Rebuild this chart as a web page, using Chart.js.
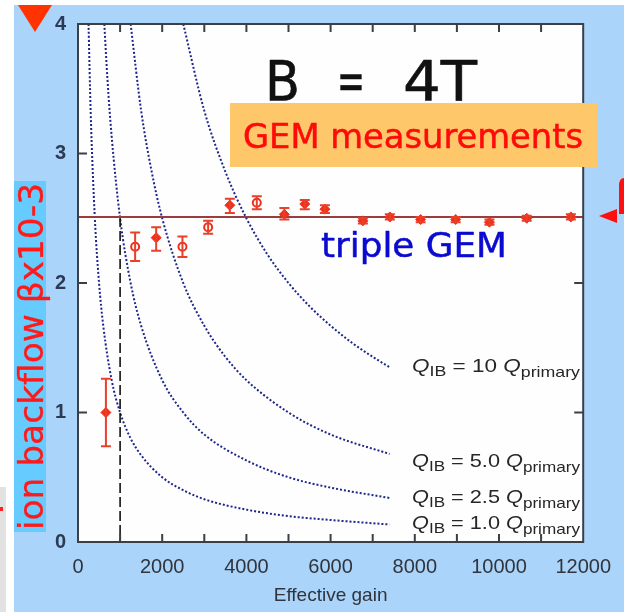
<!DOCTYPE html>
<html>
<head>
<meta charset="utf-8">
<script src="https://cdn.jsdelivr.net/npm/chart.js@4.4.0/dist/chart.umd.min.js"></script>
<style>
  html, body { margin: 0; padding: 0; background: #fff; }
  canvas { display: block; }
</style>
</head>
<body>
<canvas id="myChart" width="624" height="612"></canvas>
<script>
// measured ion backflow (x10^-3) vs effective gain, filled markers
const gainFilled = [663, 1857, 3607, 4902, 5387, 5865, 6767, 7407, 8139, 8971, 9773, 10659, 11707];
const betaFilled = [1.00, 2.35, 2.60, 2.53, 2.61, 2.57, 2.48, 2.51, 2.49, 2.49, 2.47, 2.50, 2.51];
const lowFilled = [0.74, 2.25, 2.54, 2.49, 2.57, 2.54, 2.46, 2.49, 2.47, 2.47, 2.45, 2.48, 2.49];
const highFilled = [1.26, 2.43, 2.65, 2.58, 2.64, 2.60, 2.50, 2.53, 2.51, 2.51, 2.49, 2.52, 2.53];

// open markers
const gainOpen = [1357, 2481, 3091, 4247];
const betaOpen = [2.28, 2.28, 2.43, 2.62];
const lowOpen = [2.17, 2.20, 2.38, 2.57];
const highOpen = [2.39, 2.36, 2.48, 2.67];

// Q_IB = n Q_primary curves
const gainQ1 = [250, 300, 400, 500, 600, 800, 1000, 1250, 1500, 2000, 2500, 3000, 4000, 5000, 6000, 7400];
const betaQ1 = [4.0, 3.33, 2.5, 2.0, 1.67, 1.25, 1.0, 0.8, 0.67, 0.5, 0.4, 0.33, 0.25, 0.2, 0.17, 0.135];
const gainQ25 = [625, 700, 800, 1000, 1250, 1500, 2000, 2500, 3000, 4000, 5000, 6000, 7400];
const betaQ25 = [4.0, 3.57, 3.13, 2.5, 2.0, 1.67, 1.25, 1.0, 0.83, 0.63, 0.5, 0.42, 0.34];
const gainQ5 = [1250, 1500, 1750, 2000, 2500, 3000, 3500, 4000, 5000, 6000, 7400];
const betaQ5 = [4.0, 3.33, 2.86, 2.5, 2.0, 1.67, 1.43, 1.25, 1.0, 0.83, 0.68];
const gainQ10 = [2500, 3000, 3500, 4000, 4500, 5000, 5500, 6000, 6500, 7000, 7400];
const betaQ10 = [4.0, 3.33, 2.86, 2.5, 2.22, 2.0, 1.82, 1.67, 1.54, 1.43, 1.35];

// reference level and gain marker
const refLevel = 2.51;
const refGain = 1000;

const curveLabels = ["10", "5.0", "2.5", "1.0"];
const curveLabelBeta = [1.35, 0.62, 0.34, 0.14];

const xTicks = [0, 2000, 4000, 6000, 8000, 10000, 12000];

function pts(xs, ys) {
    return xs.map((x, i) => ({ x: x, y: ys[i] }));
}

const numFont = '"Liberation Sans", Arial, sans-serif';
const comicFont = '"Comic Sans MS", "DejaVu Sans", sans-serif';

// draw text squeezed/stretched to a given width, slightly thickened
function fitText(c, text, x, y, width, thick) {
    const w = c.measureText(text).width;
    c.save();
    c.translate(x, y);
    c.scale(width / w, 1);
    c.fillText(text, 0, 0);
    if (thick) {
        c.strokeStyle = c.fillStyle;
        c.lineWidth = thick;
        c.lineJoin = "round";
        c.strokeText(text, 0, 0);
    }
    c.restore();
}

function qLabel(c, x, y, mid, width) {
    const parts = [
        ["italic 19px " + numFont, "Q", 0],
        ["15px " + numFont, "IB", 4],
        ["19px " + numFont, " = " + mid + " ", 0],
        ["italic 19px " + numFont, "Q", 0],
        ["15px " + numFont, "primary", 5],
    ];
    let total = 0;
    parts.forEach((p) => {
        c.font = p[0];
        total += c.measureText(p[1]).width;
    });
    c.save();
    c.translate(x, y);
    c.scale(width / total, 1);
    let cx = 0;
    parts.forEach((p) => {
        c.font = p[0];
        c.fillText(p[1], cx, p[2]);
        cx += c.measureText(p[1]).width;
    });
    c.restore();
}

const overlay = {
    id: "overlay",
    beforeDraw(chart) {
        const c = chart.ctx;
        const a = chart.chartArea;
        c.save();
        c.fillStyle = "#ffffff";
        c.fillRect(0, 0, 624, 612);
        c.fillStyle = "#aad4f9";
        c.fillRect(14, 5, 610, 607);
        c.fillStyle = "#e2e2e2";
        c.fillRect(0, 487, 6, 125);
        c.fillStyle = "#ff2020";
        c.fillRect(0, 507, 3, 4);
        c.fillStyle = "#fefefe";
        c.fillRect(a.left, a.top, a.right - a.left, a.bottom - a.top);
        c.restore();
    },
    afterDatasetsDraw(chart) {
        const c = chart.ctx;
        const a = chart.chartArea;
        const xs = chart.scales.x;
        const ys = chart.scales.y;
        c.save();

        // error bars
        c.strokeStyle = "#e8402a";
        c.lineWidth = 2;
        const bars = (g, lo, hi) => {
            g.forEach((v, i) => {
                const px = xs.getPixelForValue(v);
                const y0 = ys.getPixelForValue(lo[i]);
                const y1 = ys.getPixelForValue(hi[i]);
                c.beginPath();
                c.moveTo(px, y0); c.lineTo(px, y1);
                c.moveTo(px - 5, y0); c.lineTo(px + 5, y0);
                c.moveTo(px - 5, y1); c.lineTo(px + 5, y1);
                c.stroke();
            });
        };
        bars(gainFilled, lowFilled, highFilled);
        bars(gainOpen, lowOpen, highOpen);

        // frame and inward ticks
        c.strokeStyle = "#3a3f48";
        c.lineWidth = 2;
        c.strokeRect(a.left, a.top, a.right - a.left, a.bottom - a.top);
        c.beginPath();
        for (let v = 1000; v < 12000; v += 1000) {
            const px = xs.getPixelForValue(v);
            c.moveTo(px, a.bottom); c.lineTo(px, a.bottom - 8);
            c.moveTo(px, a.top); c.lineTo(px, a.top + 8);
        }
        for (let v = 1; v < 4; v++) {
            const py = ys.getPixelForValue(v);
            c.moveTo(a.left, py); c.lineTo(a.left + 9, py);
            c.moveTo(a.right, py); c.lineTo(a.right - 9, py);
        }
        c.stroke();

        // curve labels
        c.fillStyle = "#262626";
        c.textBaseline = "alphabetic";
        curveLabels.forEach((t, i) => {
            const py = ys.getPixelForValue(curveLabelBeta[i]);
            qLabel(c, 412, py + 5, t, 168);
        });

        // B = 4T
        c.fillStyle = "#111";
        c.font = '55px "DejaVu Sans", sans-serif';
        fitText(c, "B", 265, 100, 35, 0.6);
        fitText(c, "=", 337, 100, 28, 0.6);
        fitText(c, "4T", 403, 100, 74, 0.6);

        // GEM measurements box
        c.fillStyle = "#fdc76a";
        c.fillRect(230, 103, 368, 64);
        c.fillStyle = "#ff0a0a";
        c.font = "33px " + comicFont;
        fitText(c, "GEM measurements", 243, 148, 340, 0.5);

        // triple GEM
        c.fillStyle = "#0a0ad0";
        c.font = "34px " + comicFont;
        fitText(c, "triple GEM", 321, 257, 186, 0.5);

        // y axis title on cyan strip
        c.fillStyle = "#66ccff";
        c.fillRect(14, 181, 32, 351);
        c.fillStyle = "#ff1a1a";
        c.font = "33px " + comicFont;
        c.save();
        c.translate(43, 530);
        c.rotate(-Math.PI / 2);
        fitText(c, "ion backflow \u03b2x10-3", 0, 0, 347, 0.3);
        c.restore();

        // red markers
        c.fillStyle = "#ff3300";
        c.beginPath();
        c.moveTo(18, 5); c.lineTo(52, 5); c.lineTo(35, 32);
        c.closePath();
        c.fill();
        c.fillStyle = "#ff1010";
        c.beginPath();
        c.moveTo(599, 216); c.lineTo(617, 209); c.lineTo(617, 223);
        c.closePath();
        c.fill();
        c.beginPath();
        c.moveTo(619, 214); c.lineTo(619, 186);
        c.quadraticCurveTo(619, 178, 624, 178);
        c.lineTo(624, 214);
        c.closePath();
        c.fill();

        c.restore();
    },
};

const curveStyle = {
    showLine: true,
    borderColor: "#1c2788",
    borderWidth: 2,
    borderDash: [2, 2],
    pointRadius: 0,
    cubicInterpolationMode: "monotone",
    fill: false,
};

const ctx = document.getElementById("myChart").getContext("2d");
const chart = new Chart(ctx, {
    type: "scatter",
    data: {
        datasets: [
            {
                label: "measured",
                data: pts(gainFilled, betaFilled),
                pointStyle: "rectRot",
                pointRadius: 5,
                backgroundColor: "#f0301c",
                borderColor: "#f0301c",
            },
            {
                label: "measured (open)",
                data: pts(gainOpen, betaOpen),
                pointStyle: "circle",
                pointRadius: 4,
                borderWidth: 2,
                backgroundColor: "#ffffff",
                borderColor: "#f0301c",
            },
            {
                label: "reference",
                data: [{ x: 0, y: refLevel }, { x: 12000, y: refLevel }],
                showLine: true,
                borderColor: "#9a3d3d",
                borderWidth: 2,
                pointRadius: 0,
            },
            {
                label: "gain 1000",
                data: [{ x: refGain, y: refLevel }, { x: refGain, y: 0 }],
                showLine: true,
                borderColor: "#111111",
                borderWidth: 1.6,
                borderDash: [10, 4],
                pointRadius: 0,
            },
            Object.assign({ label: "Q10", data: pts(gainQ10, betaQ10) }, curveStyle),
            Object.assign({ label: "Q5", data: pts(gainQ5, betaQ5) }, curveStyle),
            Object.assign({ label: "Q2.5", data: pts(gainQ25, betaQ25) }, curveStyle),
            Object.assign({ label: "Q1", data: pts(gainQ1, betaQ1) }, curveStyle),
        ],
    },
    options: {
        responsive: false,
        animation: false,
        layout: { padding: { left: 0, top: 24, right: 27, bottom: 0 } },
        plugins: {
            legend: { display: false },
            tooltip: { enabled: false },
        },
        scales: {
            x: {
                type: "linear",
                min: 0,
                max: 12000,
                afterFit: (s) => { s.height = 70; },
                afterBuildTicks: (s) => { s.ticks = xTicks.map((v) => ({ value: v })); },
                grid: { display: false, drawTicks: false },
                border: { display: false },
                ticks: {
                    padding: 13,
                    color: "#30343c",
                    maxRotation: 0,
                    autoSkip: false,
                    font: { family: numFont, size: 20 },
                    callback: (v) => String(v),
                },
                title: {
                    display: true,
                    text: "Effective gain",
                    color: "#30343c",
                    font: { family: numFont, size: 19 },
                    padding: { top: 0, bottom: 5 },
                },
            },
            y: {
                min: 0,
                max: 4,
                afterFit: (s) => { s.width = 78; },
                grid: { display: false, drawTicks: false },
                border: { display: false },
                ticks: {
                    stepSize: 1,
                    padding: 12,
                    color: "#2c3a55",
                    font: { family: numFont, size: 20, weight: "bold" },
                },
            },
        },
    },
    plugins: [overlay],
});
</script>
</body>
</html>
